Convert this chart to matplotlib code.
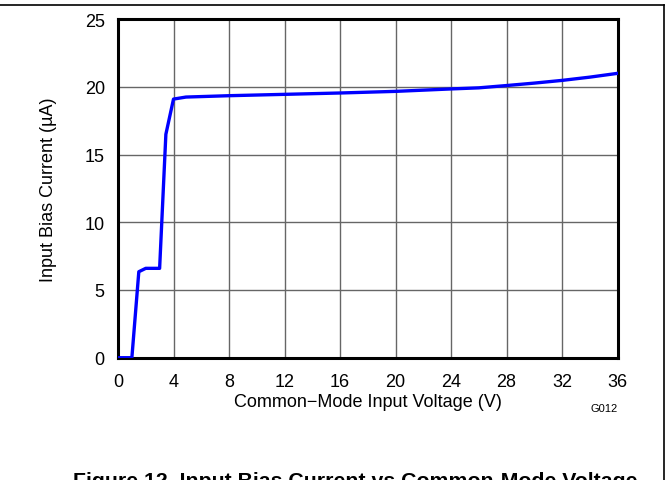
import matplotlib
matplotlib.use('Agg')
import matplotlib.pyplot as plt
from matplotlib.lines import Line2D

plt.rcParams['font.family'] = ['Liberation Sans', 'DejaVu Sans']

# Datos
vcm = [0, 1.0, 1.5, 2.0, 3.0, 3.45, 4.0, 4.9, 8, 12, 16, 20, 24, 26, 28, 30, 32, 34, 36]
ibias = [0, 0, 6.35, 6.6, 6.6, 16.5, 19.1, 19.25, 19.35, 19.45, 19.55, 19.67, 19.85, 19.93, 20.1, 20.28, 20.48, 20.72, 21.0]

xticks = [0, 4, 8, 12, 16, 20, 24, 28, 32, 36]
yticks = [0, 5, 10, 15, 20, 25]

W, H = 669, 481
fig = plt.figure(figsize=(W / 100, H / 100), dpi=100)
ax = fig.add_axes([118 / W, (H - 358.7) / H, (617.5 - 118) / W, (358.7 - 20.2) / H])

ax.plot(vcm, ibias, color='#0000ff', linewidth=2.4, zorder=3)

ax.set_xlim(0, 36)
ax.set_ylim(0, 25)
ax.set_xticks(xticks)
ax.set_yticks(yticks)
ax.grid(True, color='#666666', linewidth=1.0)
ax.tick_params(length=0, labelsize=13)
ax.tick_params(axis='x', pad=11)
ax.tick_params(axis='y', pad=9.5)
for s in ax.spines.values():
    s.set_linewidth(2.2)
    s.set_color('black')

ax.set_xlabel('Common\u2212Mode Input Voltage (V)', fontsize=13, labelpad=2)
ax.set_ylabel('Input Bias Current (\u00b5A)', fontsize=13, labelpad=20)

fig.text(604 / W, 1 - 409 / H, 'G012', fontsize=8, ha='center', va='center')
fig.text(73 / W, 1 - 487 / H, 'Figure 12. Input Bias Current vs Common-Mode Voltage',
         fontsize=15.3, fontweight='bold', ha='left', va='baseline')

# marco de la pagina
fig.add_artist(Line2D([0, 664 / W], [1 - 6 / H, 1 - 6 / H], color='black', linewidth=1.2))
fig.add_artist(Line2D([664 / W, 664 / W], [0, 1 - 6 / H], color='black', linewidth=1.2))

fig.savefig('out.png', dpi=100)
